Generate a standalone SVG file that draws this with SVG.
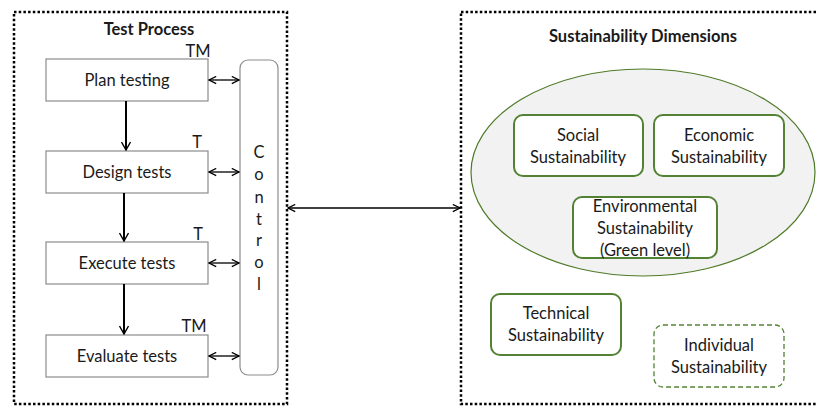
<svg xmlns="http://www.w3.org/2000/svg" width="817" height="409" viewBox="0 0 817 409">
<style>
text{font-family:Lato,"Liberation Sans",sans-serif;fill:#1a1a1a}
.t{font-size:16.5px;text-anchor:middle}
.b{font-size:16.5px;font-weight:bold;text-anchor:middle}
.frame{fill:none;stroke:#000;stroke-width:2.5;stroke-dasharray:2.5 2.2}
.step{fill:#fff;stroke:#8c8c8c;stroke-width:1.2}
.g{fill:#fff;stroke:#548235;stroke-width:2}
.gd{fill:#fff;stroke:#548235;stroke-width:1.3;stroke-dasharray:5 3}
.flow{stroke:#000;stroke-width:2;fill:none;marker-end:url(#head)}
.dbl{stroke:#000;stroke-width:1.3;fill:none;marker-start:url(#open);marker-end:url(#open)}
</style>
<defs>
<marker id="head" viewBox="0 0 10 10" refX="9" refY="5" markerWidth="10" markerHeight="10" markerUnits="userSpaceOnUse" orient="auto"><path d="M1,0.5 L9,5 L1,9.5" fill="none" stroke="#000" stroke-width="1.4"/></marker>
<marker id="open" viewBox="0 0 10 10" refX="9" refY="5" markerWidth="9" markerHeight="9" markerUnits="userSpaceOnUse" orient="auto-start-reverse"><path d="M1,1 L9,5 L1,9" fill="none" stroke="#000" stroke-width="1.4"/></marker>
</defs>
<rect class="frame" x="14" y="12" width="273" height="392"/>
<rect class="frame" x="461" y="12" width="362" height="392"/>
<text class="b" x="149" y="35">Test Process</text>
<text class="b" x="643" y="42">Sustainability Dimensions</text>
<g id="plan"><rect class="step" x="46" y="59" width="162" height="42"/><text class="t" x="127" y="86">Plan testing</text><text class="t" x="198" y="57">TM</text></g>
<g id="design"><rect class="step" x="46" y="151" width="162" height="42"/><text class="t" x="127" y="178">Design tests</text><text class="t" x="197" y="148">T</text></g>
<g id="execute"><rect class="step" x="46" y="242" width="162" height="42"/><text class="t" x="127" y="269">Execute tests</text><text class="t" x="198" y="240">T</text></g>
<g id="evaluate"><rect class="step" x="46" y="335" width="162" height="42"/><text class="t" x="127" y="362">Evaluate tests</text><text class="t" x="194" y="332">TM</text></g>
<g id="control"><rect class="step" x="240" y="60" width="38" height="315" rx="8"/>
<text class="t" x="259" y="158">C</text><text class="t" x="259" y="180">o</text><text class="t" x="259" y="203">n</text><text class="t" x="259" y="225">t</text><text class="t" x="259" y="246">r</text><text class="t" x="259" y="268">o</text><text class="t" x="259" y="290">l</text></g>
<g id="dimensions"><ellipse cx="643" cy="172.5" rx="172" ry="103.5" fill="#f2f2f2" stroke="#4f7a28" stroke-width="1.2"/></g>
<g id="social"><rect class="g" x="514" y="115" width="129" height="61" rx="9"/><text class="t" x="578" y="141">Social</text><text class="t" x="578" y="163">Sustainability</text></g>
<g id="economic"><rect class="g" x="654" y="115" width="130" height="61" rx="9"/><text class="t" x="719" y="141">Economic</text><text class="t" x="719" y="163">Sustainability</text></g>
<g id="environmental"><rect class="g" x="573" y="197" width="144" height="61" rx="9"/><text class="t" x="645" y="212">Environmental</text><text class="t" x="645" y="234">Sustainability</text><text class="t" x="645" y="256">(Green level)</text></g>
<g id="technical"><rect class="g" x="491" y="294" width="130" height="61" rx="9"/><text class="t" x="556" y="319">Technical</text><text class="t" x="556" y="341">Sustainability</text></g>
<g id="individual"><rect class="gd" x="654" y="325" width="130" height="62" rx="9"/><text class="t" x="719" y="351">Individual</text><text class="t" x="719" y="373">Sustainability</text></g>
<g id="connectors">
<line class="flow" x1="126" y1="101" x2="126" y2="150"/>
<line class="flow" x1="124" y1="193" x2="124" y2="241"/>
<line class="flow" x1="124" y1="284" x2="124" y2="334"/>
<line class="dbl" x1="209" y1="80" x2="239" y2="80"/>
<line class="dbl" x1="209" y1="172" x2="239" y2="172"/>
<line class="dbl" x1="209" y1="263" x2="239" y2="263"/>
<line class="dbl" x1="209" y1="356" x2="239" y2="356"/>
<line class="dbl" x1="288" y1="208" x2="460" y2="208"/>
</g>
</svg>
